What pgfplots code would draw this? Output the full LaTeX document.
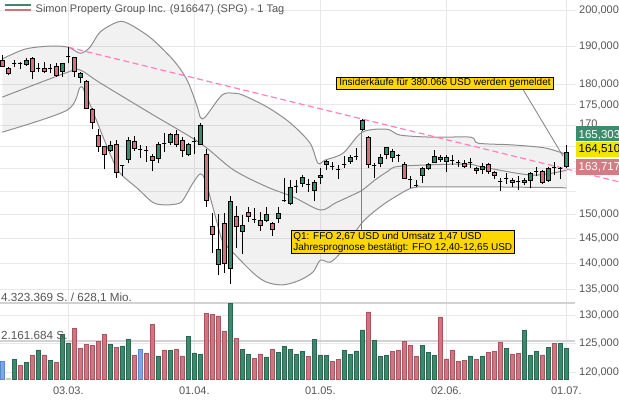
\documentclass[border=0pt]{standalone}
\usepackage{fontspec}
\setmainfont{Liberation Sans}
\usepackage{pgfplots}
\usepackage{pgfplotstable}
\pgfplotsset{compat=1.18}
\usepgfplotslibrary{fillbetween}
\definecolor{cgreen}{HTML}{3B8A6C}
\definecolor{cred}{HTML}{CC737D}
\definecolor{vgreen}{HTML}{3A8A6C}
\definecolor{vgreenD}{HTML}{2A6650}
\definecolor{vred}{HTML}{CF7680}
\definecolor{vredD}{HTML}{A9555F}
\definecolor{vblue}{HTML}{7DA7E9}
\definecolor{vblueD}{HTML}{5B87CC}
\definecolor{vgray}{HTML}{C8C8C8}
\definecolor{bandline}{HTML}{8E8E8E}
\definecolor{trend}{HTML}{FF80BF}
\definecolor{gridc}{HTML}{E8E8E8}
\definecolor{volgrid}{HTML}{D2D2D2}
\definecolor{txt}{HTML}{555555}
\definecolor{annoY}{HTML}{FFD700}
\definecolor{boxG}{HTML}{3E8B6E}
\definecolor{boxY}{HTML}{F2E600}
\definecolor{boxR}{HTML}{D27D84}
\definecolor{conn}{HTML}{808080}

\pgfplotstableread{
i o h l c
0 186.2 187.7 184.6 184.8
1 184.2 184.6 182.5 182.8
2 185.5 186.4 184.6 185.5
3 185.4 186.0 184.2 185.4
4 185.3 186.9 184.8 186.2
5 186.9 187.1 181.4 183.4
6 184.2 185.5 183.2 184.2
7 184.2 185.9 183.0 183.5
8 184.1 185.4 182.9 184.1
9 184.6 185.5 182.1 182.5
10 183.4 185.7 181.9 185.5
11 187.4 189.8 185.5 187.4
12 187.1 187.3 182.1 183.4
13 181.9 183.3 180.5 183.0
14 180.8 181.2 174.0 174.1
15 173.9 174.1 169.1 170.7
16 167.7 169.1 163.8 165.0
17 165.1 165.1 159.9 163.2
18 164.1 166.3 163.8 165.3
19 165.5 166.5 157.9 159.1
20 160.7 160.8 158.2 160.7
21 162.1 167.2 161.2 166.5
22 166.1 167.5 164.1 164.6
23 164.4 165.4 162.3 164.4
24 164.1 165.1 161.5 164.1
25 162.8 163.4 159.4 161.8
26 162.3 166.1 161.2 165.5
27 165.8 168.3 163.7 165.8
28 166.0 168.3 165.4 167.9
29 167.9 168.9 164.8 165.4
30 166.5 167.2 162.5 164.1
31 163.2 165.8 162.9 165.5
32 166.3 167.2 163.2 166.3
33 165.5 170.5 165.4 170.1
34 163.2 164.4 151.6 153.0
35 147.5 150.2 142.1 145.8
36 139.8 150.1 137.7 142.8
37 148.1 150.2 138.1 140.0
38 139.0 153.8 136.0 152.7
39 149.5 151.7 143.0 147.5
40 146.5 149.8 141.8 147.7
41 150.4 151.5 148.4 149.5
42 149.0 151.3 148.1 149.0
43 148.6 150.5 146.6 147.6
44 148.8 151.5 148.4 150.0
45 148.0 148.4 145.5 146.9
46 149.2 151.5 148.1 150.2
47 152.9 157.8 152.7 152.9
48 152.4 157.4 152.0 155.8
49 156.1 157.4 154.5 156.1
50 156.7 158.5 155.9 158.0
51 156.5 157.6 154.8 156.5
52 155.1 157.4 152.9 156.9
53 157.9 160.0 156.5 158.5
54 160.9 161.9 159.7 161.5
55 160.5 161.5 159.7 160.5
56 159.7 160.8 157.6 159.7
57 160.8 162.9 160.0 160.8
58 161.5 163.1 161.1 162.5
59 162.7 164.6 161.9 162.7
60 169.1 171.5 168.7 171.1
61 167.2 167.5 160.0 160.8
62 160.6 161.2 157.8 160.6
63 161.2 163.3 160.3 162.6
64 163.2 165.0 162.1 164.7
65 162.5 164.4 161.5 163.8
66 162.9 163.2 161.5 162.9
67 160.9 161.5 157.6 157.8
68 157.6 158.3 155.6 157.6
69 156.2 157.4 155.8 156.2
70 158.5 160.4 156.7 159.9
71 160.0 161.2 159.7 160.8
72 161.3 164.2 161.2 162.8
73 162.0 163.1 161.5 162.6
74 161.7 163.1 159.1 162.5
75 161.8 163.1 160.8 161.8
76 161.3 161.9 160.4 161.3
77 161.2 161.9 160.1 160.4
78 161.3 162.3 160.0 161.3
79 159.5 160.4 158.8 160.0
80 159.7 161.2 158.8 160.5
81 161.0 161.3 158.8 159.3
82 159.0 159.4 157.6 158.5
83 157.0 157.8 155.0 157.0
84 157.8 159.0 156.5 157.8
85 157.4 157.8 155.9 156.9
86 157.0 158.2 155.2 157.0
87 156.8 157.8 156.3 157.4
88 157.3 159.3 155.6 158.8
89 159.3 160.4 158.2 159.3
90 159.3 159.7 156.5 156.9
91 157.4 160.4 157.0 160.0
92 160.2 161.5 158.5 160.2
93 160.0 160.4 157.6 160.0
94 160.4 165.4 160.2 163.7
}\candles

\pgfplotstableread{
i v col
0 0.98 3
1 0.06 4
2 1.12 1
3 0.78 2
4 0.94 1
5 1.35 2
6 1.65 1
7 1.37 2
8 1.08 1
9 0.96 2
10 2.55 1
11 2.05 1
12 2.89 2
13 1.76 2
14 1.95 2
15 1.89 2
16 2.13 2
17 2.55 2
18 1.99 1
19 1.82 2
20 1.88 1
21 2.26 1
22 1.35 2
23 1.67 3
24 1.45 2
25 3.11 2
26 1.31 1
27 1.65 2
28 1.64 1
29 1.66 2
30 1.31 2
31 2.42 1
32 1.48 1
33 1.42 1
34 3.75 2
35 3.69 2
36 3.54 2
37 2.69 2
38 4.32 1
39 2.32 2
40 1.69 1
41 1.41 1
42 1.18 2
43 1.43 2
44 1.26 1
45 1.69 2
46 1.49 1
47 1.87 1
48 1.69 1
49 1.42 1
50 1.55 1
51 1.27 2
52 2.26 1
53 1.37 1
54 1.32 1
55 0.98 2
56 1.12 2
57 1.61 1
58 1.39 1
59 1.60 1
60 2.79 1
61 3.82 2
62 2.18 1
63 1.29 1
64 1.35 1
65 1.59 2
66 1.65 2
67 2.16 2
68 1.89 2
69 1.27 2
70 1.93 1
71 1.50 1
72 1.33 1
73 3.53 2
74 1.14 2
75 1.65 2
76 0.98 2
77 1.06 2
78 1.31 1
79 1.12 2
80 1.31 1
81 1.50 2
82 1.55 2
83 2.09 2
84 1.75 1
85 1.41 2
86 1.46 2
87 2.79 1
88 1.33 1
89 1.55 1
90 1.37 2
91 1.78 1
92 2.03 2
93 2.03 1
94 1.75 1
}\vols

\begin{document}
\begin{tikzpicture}[x=1bp,y=1bp]
\begin{axis}[
  at={(0bp,19bp)}, anchor=south west, scale only axis,
  width=576bp, height=380bp,
  xmin=-0.3833, xmax=95.6167,
  ymode=log, ymin=118.77, ymax=202.84,
  clip=false,
  axis line style={draw=none},
  major tick length=0pt,
  xtick={11,32,53,74,94},
  xticklabels={03.03.,01.04.,01.05.,02.06.,01.07.},
  ytick={120,125,130,135,140,145,150,155,160,165,170,175,180,190,200},
  yticklabels={{120,000},{125,000},{130,000},{135,000},{140,000},{145,000},{150,000},{},{},{},{},{175,000},{180,000},{190,000},{200,000}},
  extra y ticks={170},
  extra y tick labels={{170,000}},
  extra y tick style={grid=none, tick label style={yshift=1.8bp}},
  yticklabel pos=right,
  xmajorgrids, ymajorgrids,
  grid style={gridc, line width=0.9bp},
  ticklabel style={font=\fontsize{11bp}{13bp}\selectfont, text=txt},
  yticklabel style={anchor=west, inner sep=0pt, xshift=3bp},
  xticklabel style={anchor=north, inner sep=0pt, yshift=-6.5bp},
  /pgf/number format/assume math mode=true,
]
% Bollinger bands
\addplot[name path=up, draw=none, forget plot, smooth, tension=0.5] coordinates {
(0,186.7) (3.8,189.3) (8,190.1) (11,189.8) (13,188.2) (14.6,189.8) (16.3,193.9) (19.1,196.6) (20.8,196.4) (24.6,192.5) (28.5,186.4) (30.8,181.2) (32.5,174.5) (33,172.0) (33.8,172.0) (36.6,177.4) (38.5,177.9) (40.1,177.4) (44.1,174.5) (48,170.6) (51.3,165.8) (52.6,161.2) (53.8,161.9) (56.8,163.5) (60,168.4) (64.1,169.1) (66.3,167.7) (71.8,167.2) (78.1,167.2) (79.3,165.8) (85.1,165.4) (90.4,164.7) (94,163.2)};
\addplot[name path=lo, draw=none, forget plot, smooth, tension=0.5] coordinates {
(0,168.4) (10.8,173.7) (13,179.4) (14.1,176.9) (17.9,163.5) (19.6,159.0) (22.5,155.6) (25,152.6) (26.8,152.0) (29.1,152.2) (30.1,153.0) (31.8,156.8) (33,158.8) (33.8,157.4) (35.1,151.5) (36.6,144.7) (37.6,143.2) (41.8,138.1) (44.1,136.3) (46.8,135.8) (49.6,136.7) (51.8,138.3) (53,140.6) (54.6,140.2) (56.3,142.0) (59.95,148.2) (62.9,151.5) (65.45,153.7) (68.3,155.7) (71.3,155.9) (81.3,155.9) (94,155.7)};
\addplot[fill=black, fill opacity=0.055, draw=none, forget plot] fill between[of=up and lo];
\addplot[draw=bandline, line width=1bp, smooth, tension=0.5, forget plot] coordinates {
(0,186.7) (3.8,189.3) (8,190.1) (11,189.8) (13,188.2) (14.6,189.8) (16.3,193.9) (19.1,196.6) (20.8,196.4) (24.6,192.5) (28.5,186.4) (30.8,181.2) (32.5,174.5) (33,172.0) (33.8,172.0) (36.6,177.4) (38.5,177.9) (40.1,177.4) (44.1,174.5) (48,170.6) (51.3,165.8) (52.6,161.2) (53.8,161.9) (56.8,163.5) (60,168.4) (64.1,169.1) (66.3,167.7) (71.8,167.2) (78.1,167.2) (79.3,165.8) (85.1,165.4) (90.4,164.7) (94,163.2)};
\addplot[draw=bandline, line width=1bp, smooth, tension=0.5, forget plot] coordinates {
(0,168.4) (10.8,173.7) (13,179.4) (14.1,176.9) (17.9,163.5) (19.6,159.0) (22.5,155.6) (25,152.6) (26.8,152.0) (29.1,152.2) (30.1,153.0) (31.8,156.8) (33,158.8) (33.8,157.4) (35.1,151.5) (36.6,144.7) (37.6,143.2) (41.8,138.1) (44.1,136.3) (46.8,135.8) (49.6,136.7) (51.8,138.3) (53,140.6) (54.6,140.2) (56.3,142.0) (59.95,148.2) (62.9,151.5) (65.45,153.7) (68.3,155.7) (71.3,155.9) (81.3,155.9) (94,155.7)};
\addplot[draw=bandline, line width=1bp, smooth, tension=0.5, forget plot] coordinates {
(0,176.9) (11,183.3) (13,183.8) (16.3,180.5) (24.6,173.0) (33,165.8) (38.5,159.7) (44.1,155.9) (48.5,153.7) (53,150.9) (55.5,152.4) (58,153.9) (60,155.2) (62.1,157.4) (64.3,159.4) (66.3,160.5) (77.1,161.0) (80.1,160.3) (88.4,158.5) (94,159.6)};
% trend line
\addplot[trend, line width=1.2bp, dash pattern=on 6bp off 3.5bp, forget plot] coordinates {(10.95,189.84) (102.8,157.0)};
% connectors
\addplot[conn, line width=0.8bp, forget plot] coordinates {(86.8,178.8) (93.45,162.8)};
\addplot[conn, line width=0.8bp, forget plot] coordinates {(59.9,146.7) (59.9,168.7)};
% candles
\pgfplotsforeachungrouped \k in {0,...,94}{%
  \pgfplotstablegetelem{\k}{o}\of\candles\let\vo\pgfplotsretval
  \pgfplotstablegetelem{\k}{h}\of\candles\let\vh\pgfplotsretval
  \pgfplotstablegetelem{\k}{l}\of\candles\let\vl\pgfplotsretval
  \pgfplotstablegetelem{\k}{c}\of\candles\let\vc\pgfplotsretval
  \pgfplotstablegetelem{\k}{i}\of\candles\let\vi\pgfplotsretval
  \pgfmathsetmacro{\xl}{\vi-0.31}%
  \pgfmathsetmacro{\xr}{\vi+0.31}%
  \pgfmathtruncatemacro{\updown}{\vc>\vo ? 1 : (\vc<\vo ? 2 : 0)}%
  \ifcase\updown\relax \def\bodycol{black}\or \def\bodycol{cgreen}\or \def\bodycol{cred}\fi
  \edef\doplot{%
    \noexpand\addplot[forget plot, black, line width=1.1bp] coordinates {(\vi,\vl) (\vi,\vh)};
    \noexpand\addplot[forget plot, draw=black, fill=\bodycol, line width=0.9bp] coordinates {(\xl,\vo) (\xr,\vo) (\xr,\vc) (\xl,\vc) (\xl,\vo)};
  }%
  \doplot
}
\end{axis}

% volume
\begin{axis}[
  at={(0bp,19bp)}, anchor=south west, scale only axis,
  width=576bp, height=380bp,
  xmin=-0.3833, xmax=95.6167,
  ymin=-0.056886, ymax=21.5598,
  axis line style={draw=none},
  major tick length=0pt,
  xtick=\empty, ytick=\empty,
]
\addplot[volgrid, line width=1.4bp, forget plot] coordinates {(-0.3833,4.323369) (95.45,4.323369)};
\addplot[volgrid, line width=1.4bp, forget plot] coordinates {(-0.3833,2.161684) (95.45,2.161684)};
\addplot[ybar, bar width=4.0bp, bar shift=0pt, fill=vgreen, draw=vgreenD, line width=0.7bp, restrict expr to domain={\thisrow{col}}{1:1}] table[x=i,y=v]{\vols};
\addplot[ybar, bar width=4.0bp, bar shift=0pt, fill=vred, draw=vredD, line width=0.7bp, restrict expr to domain={\thisrow{col}}{2:2}] table[x=i,y=v]{\vols};
\addplot[ybar, bar width=4.0bp, bar shift=0pt, fill=vblue, draw=vblueD, line width=0.7bp, restrict expr to domain={\thisrow{col}}{3:3}] table[x=i,y=v]{\vols};
\addplot[ybar, bar width=4.0bp, bar shift=0pt, fill=vgray, draw=vgray, line width=0.7bp, restrict expr to domain={\thisrow{col}}{4:4}] table[x=i,y=v]{\vols};
\end{axis}

% title and legend icon
\draw[cgreen, line width=2bp] (5,394.3) -- (31,394.3);
\draw[cred, line width=2bp] (5,389) -- (31,389);
\node[anchor=base west, inner sep=0pt, text=txt, font=\fontsize{11bp}{13bp}\selectfont] at (35.5,386.7) {Simon Property Group Inc. (916647) (SPG) - 1 Tag};

% volume labels
\node[anchor=base west, inner sep=0pt, text=txt, font=\fontsize{11.7bp}{13bp}\selectfont] at (1,97.3) {4.323.369 S. / 628,1 Mio.};
\node[anchor=base west, inner sep=0pt, text=txt, font=\fontsize{11.7bp}{13bp}\selectfont] at (1,59.7) {2.161.684 S.};

% annotations
\node[fill=annoY, draw=black, line width=0.8bp, inner xsep=2.5bp, inner ysep=1.6bp, font=\fontsize{10bp}{11bp}\selectfont] at (445,315.8) {Insiderkäufe für 380.066 USD werden gemeldet};
\node[anchor=north west, fill=annoY, draw=black, line width=0.8bp, inner xsep=2bp, inner ysep=1.5bp, align=left, font=\fontsize{10bp}{11bp}\selectfont] at (291,169) {Q1: FFO 2,67 USD und Umsatz 1,47 USD\\Jahresprognose bestätigt: FFO 12,40-12,65 USD};

% price boxes
\fill[boxG] (576,258) rectangle (625,273);
\node[anchor=west, inner sep=0pt, text=white, font=\fontsize{11.5bp}{13bp}\selectfont] at (578.5,264) {165,303};
\fill[boxY] (576,242) rectangle (625,257);
\node[anchor=west, inner sep=0pt, text=black, font=\fontsize{11.5bp}{13bp}\selectfont] at (578.5,249.5) {164,510};
\fill[boxR] (576,224) rectangle (625,240);
\node[anchor=west, inner sep=0pt, text=white, font=\fontsize{11.5bp}{13bp}\selectfont] at (578.5,232) {163,717};

\pgfresetboundingbox
\path[use as bounding box] (0,0) rectangle (619,399);
\end{tikzpicture}
\end{document}
